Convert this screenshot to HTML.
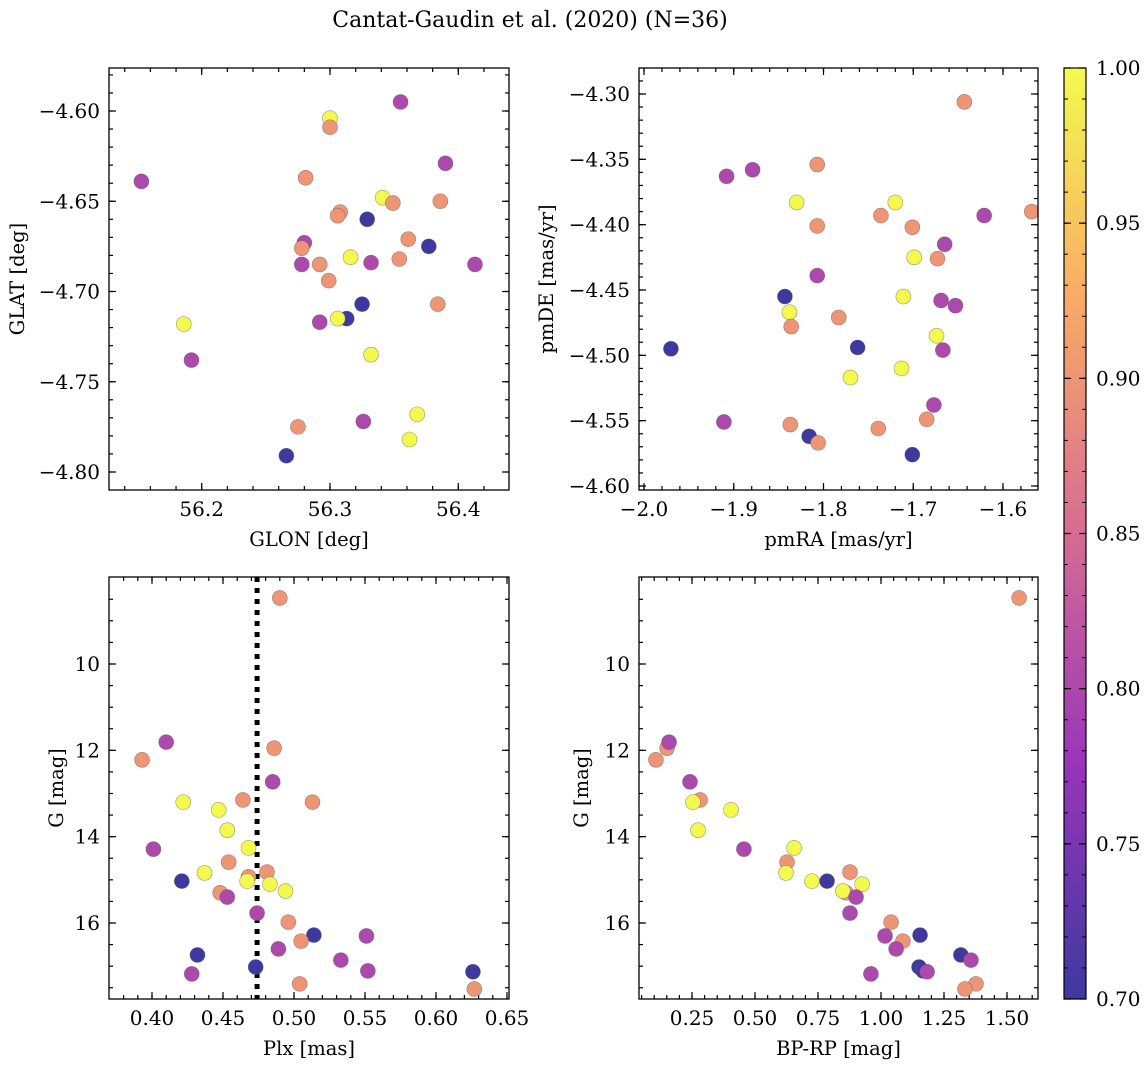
<!DOCTYPE html>
<html><head><meta charset="utf-8"><style>
html,body{margin:0;padding:0;background:#fff}
svg text{font-family:"DejaVu Serif","Liberation Serif",serif;fill:#000}
</style></head><body>
<svg id="fig" width="1148" height="1067" viewBox="0 0 1148 1067" xmlns="http://www.w3.org/2000/svg">
<defs>
<linearGradient id="cbgrad" x1="0" y1="1" x2="0" y2="0">
<stop offset="0" stop-color="#3d399f"/><stop offset="0.25" stop-color="#9835ba"/>
<stop offset="0.5" stop-color="#d66c93"/><stop offset="0.75" stop-color="#f9aa66"/>
<stop offset="1" stop-color="#f3fa4e"/></linearGradient>
</defs>
<text x="530" y="27" font-size="22" text-anchor="middle">Cantat-Gaudin et al. (2020) (N=36)</text>
</svg>
<script>
// ---- data ----
const glon=[56.153,56.300,56.300,56.355,56.390,56.281,56.341,56.349,56.386,56.329,56.308,56.306,56.361,56.377,56.280,56.278,56.278,56.292,56.316,56.332,56.354,56.413,56.299,56.325,56.384,56.313,56.306,56.292,56.186,56.192,56.332,56.368,56.326,56.275,56.362,56.266];
const glat=[-4.639,-4.604,-4.609,-4.595,-4.629,-4.637,-4.648,-4.651,-4.650,-4.660,-4.656,-4.658,-4.671,-4.675,-4.673,-4.676,-4.685,-4.685,-4.681,-4.684,-4.682,-4.685,-4.694,-4.707,-4.707,-4.715,-4.715,-4.717,-4.718,-4.738,-4.735,-4.768,-4.772,-4.775,-4.782,-4.791];
const prob1=[0.80,1.00,0.90,0.80,0.80,0.90,1.00,0.90,0.90,0.70,0.90,0.90,0.90,0.70,0.80,0.90,0.80,0.90,1.00,0.80,0.90,0.80,0.90,0.70,0.90,0.70,1.00,0.80,1.00,0.80,1.00,1.00,0.80,0.90,1.00,0.70];
const pmra=[-1.643,-1.807,-1.879,-1.908,-1.830,-1.720,-1.736,-1.568,-1.621,-1.807,-1.701,-1.665,-1.699,-1.673,-1.807,-1.843,-1.711,-1.669,-1.653,-1.838,-1.783,-1.836,-1.970,-1.762,-1.674,-1.667,-1.770,-1.713,-1.677,-1.685,-1.911,-1.837,-1.739,-1.816,-1.806,-1.701];
const pmde=[-4.306,-4.354,-4.358,-4.363,-4.383,-4.383,-4.393,-4.390,-4.393,-4.401,-4.402,-4.415,-4.425,-4.426,-4.439,-4.455,-4.455,-4.458,-4.462,-4.467,-4.471,-4.478,-4.495,-4.494,-4.485,-4.496,-4.517,-4.510,-4.538,-4.549,-4.551,-4.553,-4.556,-4.562,-4.567,-4.576];
const prob2=[0.90,0.90,0.80,0.80,1.00,1.00,0.90,0.90,0.80,0.90,0.90,0.80,1.00,0.90,0.80,0.70,1.00,0.80,0.80,1.00,0.90,0.90,0.70,0.70,1.00,0.80,1.00,1.00,0.80,0.90,0.80,0.90,0.90,0.70,0.90,0.70];
const plx=[0.490,0.393,0.410,0.486,0.485,0.464,0.422,0.513,0.447,0.453,0.401,0.468,0.454,0.437,0.481,0.468,0.421,0.467,0.483,0.494,0.448,0.453,0.474,0.496,0.514,0.551,0.505,0.489,0.432,0.533,0.473,0.552,0.626,0.428,0.504,0.627];
const gmag3=[8.47,12.22,11.81,11.95,12.73,13.15,13.20,13.20,13.38,13.85,14.29,14.26,14.59,14.84,14.82,14.93,15.03,15.03,15.10,15.26,15.30,15.40,15.77,15.98,16.28,16.30,16.42,16.60,16.74,16.86,17.02,17.11,17.13,17.18,17.41,17.53];
const prob3=[0.90,0.90,0.80,0.90,0.80,0.90,1.00,0.90,1.00,1.00,0.80,1.00,0.90,1.00,0.90,0.90,0.70,1.00,1.00,1.00,0.90,0.80,0.80,0.90,0.70,0.80,0.90,0.80,0.70,0.80,0.70,0.80,0.70,0.80,0.90,0.90];
const bprp=[1.548,0.107,0.151,0.159,0.242,0.282,0.254,0.274,0.405,0.456,0.627,0.655,0.623,0.726,0.786,0.877,0.925,0.861,0.849,0.901,0.877,1.040,1.155,1.016,1.087,1.060,1.317,1.357,1.151,1.167,1.183,0.960,1.377,1.333];
const gmag4=[8.47,12.22,11.95,11.81,12.73,13.15,13.20,13.85,13.38,14.29,14.59,14.26,14.84,15.03,15.03,14.82,15.10,15.30,15.26,15.40,15.77,15.98,16.28,16.30,16.42,16.60,16.74,16.86,17.02,17.11,17.13,17.18,17.41,17.53];
const prob4=[0.90,0.90,0.90,0.80,0.80,0.90,1.00,1.00,1.00,0.80,0.90,1.00,1.00,1.00,0.70,0.90,1.00,0.90,1.00,0.80,0.80,0.90,0.70,0.80,0.90,0.80,0.70,0.80,0.70,0.70,0.80,0.80,0.90,0.90];
const plxLine=[0.474];
const cbTicks=[0.70,0.75,0.80,0.85,0.90,0.95,1.00];

const NS='http://www.w3.org/2000/svg';
const svg=document.getElementById('fig');
function mk(t,a,p){const e=document.createElementNS(NS,t);for(const k in a)e.setAttribute(k,a[k]);(p||svg).appendChild(e);return e;}
function lin(v0,p0,v1,p1){const s=(p1-p0)/(v1-v0);const f=v=>p0+(v-v0)*s;f.inv=p=>v0+(p-p0)/s;return f;}
const stops=[[0,[13,8,135]],[0.25,[126,3,168]],[0.5,[204,71,120]],[0.75,[248,149,64]],[1,[240,249,33]]];
function cmap(v){let t=Math.max(0,Math.min(1,(v-0.7)/0.3));let i=0;while(i<3&&t>stops[i+1][0])i++;
 const a=stops[i],b=stops[i+1],u=(t-a[0])/(b[0]-a[0]);
 const c=a[1].map((x,k)=>Math.round((x+(b[1][k]-x)*u)*0.8+255*0.2));return `rgb(${c[0]},${c[1]},${c[2]})`;}
function fmt(v,d){const s=Math.abs(v).toFixed(d);return (v<-1e-9?'\u2212':'')+s;}
const TFS=20, LFS=19.5;

function panel(o){
 const g=mk('g',{});
 
 
 const {L,R,T,B}=o;
 const xs=lin(o.xa[0],o.xa[1],o.xa[2],o.xa[3]), ys=lin(o.ya[0],o.ya[1],o.ya[2],o.ya[3]);
 const tk=(axis,step,len,major)=>{
  const sc=axis=='x'?xs:ys; const a=sc.inv(axis=='x'?L:T), b=sc.inv(axis=='x'?R:B);
  const lo=Math.min(a,b),hi=Math.max(a,b);
  for(let k=Math.ceil(lo/step-1e-6);k*step<=hi+1e-9;k++){
   const v=k*step,p=sc(v);
   if(axis=='x'){if(p<L+1||p>R-1)continue;
    mk('line',{x1:p,x2:p,y1:B,y2:B-len,stroke:'#000','stroke-width':1.2},g);mk('line',{x1:p,x2:p,y1:T,y2:T+len,stroke:'#000','stroke-width':1.2},g);
    if(major){const t=mk('text',{x:p,y:B+26,'font-size':TFS,'text-anchor':'middle'},g);t.textContent=fmt(v,o.xd);}}
   else{if(p<T+1.5||p>B-1)continue;
    mk('line',{y1:p,y2:p,x1:L,x2:L+len,stroke:'#000','stroke-width':1.2},g);mk('line',{y1:p,y2:p,x1:R,x2:R-len,stroke:'#000','stroke-width':1.2},g);
    if(major){const t=mk('text',{x:L-9,y:p+7,'font-size':TFS,'text-anchor':'end'},g);t.textContent=fmt(v,o.yd);}}
  }};
 tk('x',o.xmin,4,false);tk('x',o.xmaj,7,true);tk('y',o.ymin,4,false);tk('y',o.ymaj,7,true);
 const clipId='c'+o.name;const cp=mk('clipPath',{id:clipId},g);mk('rect',{x:L,y:T,width:R-L,height:B-T},cp);
 const pg=mk('g',{'clip-path':`url(#${clipId})`},g);
 if(o.vline){o.vline.forEach(v=>{const l=mk('line',{x1:xs(v),x2:xs(v),y1:T,y2:B,stroke:'#000','stroke-width':5,'stroke-dasharray':'5,6'},pg);
  });}
 o.x.forEach((xv,i)=>{const c=mk('circle',{cx:xs(xv),cy:ys(o.y[i]),r:7.5,fill:cmap(o.c[i]),stroke:'rgba(90,90,90,0.6)','stroke-width':0.6},pg);
  });
 mk('rect',{x:L,y:T,width:R-L,height:B-T,fill:'none',stroke:'#000','stroke-width':1.3},g);
 const xl=mk('text',{x:(L+R)/2,y:B+56,'font-size':LFS,'text-anchor':'middle'},g);xl.textContent=o.xlab;
 
 const yl=mk('text',{x:0,y:0,'font-size':LFS,'text-anchor':'middle',transform:`translate(${o.ylx},${(T+B)/2}) rotate(-90)`},g);yl.textContent=o.ylab;
 
}
panel({name:'glon-glat-panel',L:109,R:509,T:68,B:490,xa:[56.2,201.7,56.4,458.3],ya:[-4.6,111,-4.8,472],xmaj:0.1,xmin:0.02,ymaj:0.05,ymin:0.01,xd:1,yd:2,x:glon,y:glat,c:prob1,xlab:'GLON [deg]',ylab:'GLAT [deg]',ylx:24});
panel({name:'proper-motion-panel',L:639,R:1038,T:68,B:490,xa:[-2.0,644,-1.6,1003],ya:[-4.3,94,-4.6,486],xmaj:0.1,xmin:0.02,ymaj:0.05,ymin:0.01,xd:1,yd:2,x:pmra,y:pmde,c:prob2,xlab:'pmRA [mas/yr]',ylab:'pmDE [mas/yr]',ylx:553});
panel({name:'plx-g-panel',L:109,R:509,T:577,B:999,xa:[0.40,152,0.65,507],ya:[10,664,16,923],xmaj:0.05,xmin:0.01,ymaj:2,ymin:0.5,xd:2,yd:0,x:plx,y:gmag3,c:prob3,xlab:'Plx [mas]',ylab:'G [mag]',ylx:63,vline:plxLine});
panel({name:'cmd-panel',L:639,R:1038,T:577,B:999,xa:[0.25,692,1.50,1007],ya:[10,664,16,923],xmaj:0.25,xmin:0.05,ymaj:2,ymin:0.5,xd:2,yd:0,x:bprp,y:gmag4,c:prob4,xlab:'BP-RP [mag]',ylab:'G [mag]',ylx:588});
// colorbar
const cb=mk('g',{});


mk('rect',{x:1064,y:68,width:22,height:931,fill:'url(#cbgrad)',stroke:'#000','stroke-width':1.2},cb);
const cs=lin(0.7,999,1.0,68);
cbTicks.forEach(v=>{const p=cs(v);mk('line',{x1:1086,x2:1079,y1:p,y2:p,stroke:'#000','stroke-width':1.2},cb);mk('line',{x1:1064,x2:1071,y1:p,y2:p,stroke:'#000','stroke-width':1.2},cb);
 const t=mk('text',{x:1096,y:p+7,'font-size':TFS},cb);t.textContent=v.toFixed(2);
 });
for(let v=0.71;v<1.0;v+=0.01){const p=cs(v);mk('line',{x1:1086,x2:1082,y1:p,y2:p,stroke:'#000','stroke-width':1},cb);mk('line',{x1:1064,x2:1068,y1:p,y2:p,stroke:'#000','stroke-width':1},cb);}
</script>
</body></html>
